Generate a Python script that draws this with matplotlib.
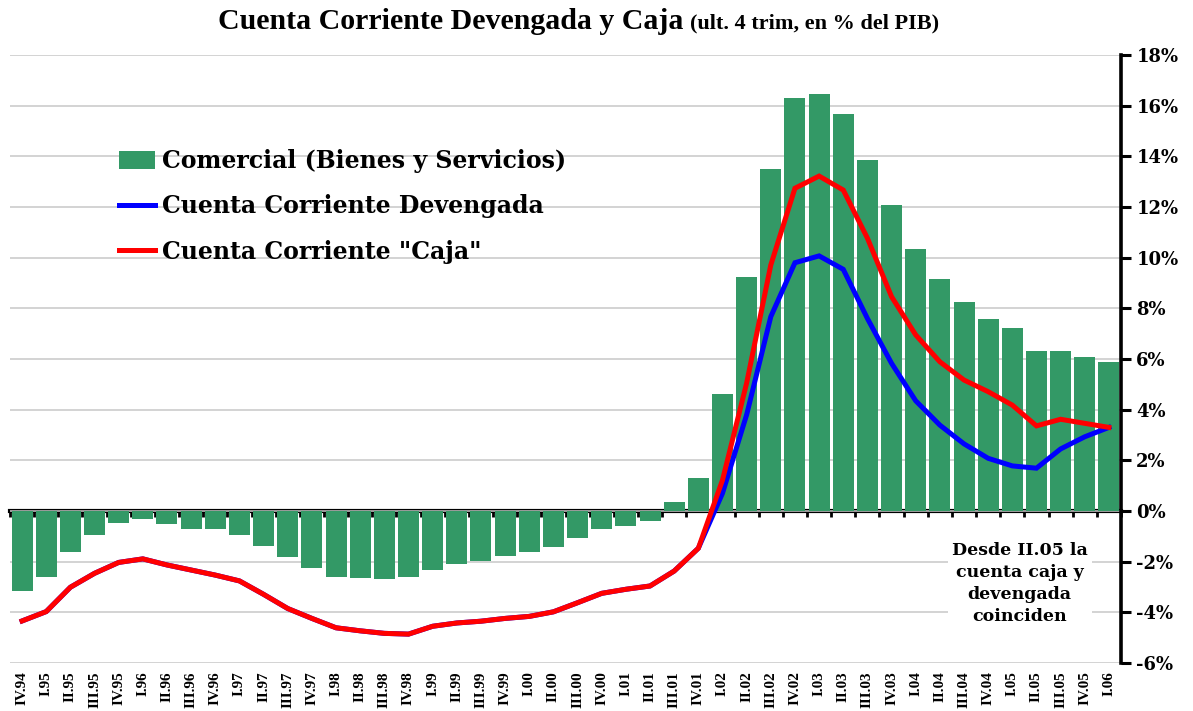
import matplotlib
matplotlib.use("Agg")
import matplotlib.pyplot as plt
from matplotlib.patches import Patch
from matplotlib.lines import Line2D
import numpy as np

categories = ["IV.94", "I.95", "II.95", "III.95", "IV.95", "I.96", "II.96", "III.96", "IV.96",
              "I.97", "II.97", "III.97", "IV.97", "I.98", "II.98", "III.98", "IV.98",
              "I.99", "II.99", "III.99", "IV.99", "I.00", "II.00", "III.00", "IV.00",
              "I.01", "II.01", "III.01", "IV.01", "I.02", "II.02", "III.02", "IV.02",
              "I.03", "II.03", "III.03", "IV.03", "I.04", "II.04", "III.04", "IV.04",
              "I.05", "II.05", "III.05", "IV.05", "I.06"]

comercial = [-3.15, -2.59, -1.60, -0.93, -0.46, -0.30, -0.50, -0.71, -0.71, -0.93,
             -1.37, -1.80, -2.24, -2.59, -2.63, -2.68, -2.59, -2.33, -2.08, -1.97,
             -1.78, -1.62, -1.42, -1.07, -0.71, -0.59, -0.38, 0.37, 1.31, 4.62,
             9.24, 13.50, 16.30, 16.46, 15.67, 13.86, 12.08, 10.34, 9.16, 8.25,
             7.58, 7.22, 6.33, 6.33, 6.08, 5.88]

caja = [-4.34, -3.97, -3.01, -2.46, -2.03, -1.89, -2.13, -2.33, -2.53, -2.76,
        -3.29, -3.85, -4.24, -4.61, -4.73, -4.83, -4.86, -4.55, -4.42, -4.35,
        -4.24, -4.16, -3.98, -3.62, -3.25, -3.09, -2.96, -2.37, -1.47, 1.22,
        5.05, 9.71, 12.74, 13.22, 12.67, 10.77, 8.46, 6.95, 5.89, 5.17,
        4.71, 4.18, 3.36, 3.62, 3.46, 3.30]

devengada = [-4.34, -3.97, -3.01, -2.46, -2.03, -1.89, -2.13, -2.33, -2.53, -2.76,
             -3.29, -3.85, -4.24, -4.61, -4.73, -4.83, -4.86, -4.55, -4.42, -4.35,
             -4.24, -4.16, -3.98, -3.62, -3.25, -3.09, -2.96, -2.37, -1.47, 0.70,
             3.80, 7.67, 9.80, 10.07, 9.54, 7.60, 5.83, 4.35, 3.39, 2.65,
             2.08, 1.78, 1.69, 2.45, 2.93, 3.30]

y_ticks = [-6, -4, -2, 0, 2, 4, 6, 8, 10, 12, 14, 16, 18]

SERIF = "DejaVu Serif"
GREEN = "#339966"

fig = plt.figure(figsize=(11.93, 7.11), dpi=100)
ax = fig.add_axes([10 / 1193, 1 - 663 / 711, 1111 / 1193, 608 / 711])

n = len(categories)
x = np.arange(n)
ax.bar(x, comercial, width=0.87, color=GREEN, zorder=2)
ax.plot(x, devengada, color="#0000FF", lw=3.6, zorder=3, solid_joinstyle="miter")
ax.plot(x, caja, color="#FF0000", lw=3.6, zorder=4, solid_joinstyle="miter")

ax.set_xlim(-0.5, n - 0.5)
ax.set_ylim(y_ticks[0], y_ticks[-1])

# y axis on the right
ax.yaxis.tick_right()
ax.set_yticks(y_ticks)
ax.set_yticklabels([f"{v}%" for v in y_ticks], fontfamily=SERIF, fontweight="bold", fontsize=13)
ax.tick_params(axis="y", direction="out", length=7, width=2.2, pad=4, colors="black")
ax.grid(axis="y", color="#c8c8c8", lw=1.1, zorder=0)
for s in ["left", "top", "bottom"]:
    ax.spines[s].set_visible(False)
ax.spines["right"].set_linewidth(2.6)

# category labels at the bottom
ax.set_xticks(x)
ax.set_xticklabels(categories, rotation=90, fontfamily="Liberation Serif", fontweight="bold",
                   fontsize=11, va="top", ha="center")
ax.tick_params(axis="x", length=0, pad=6)

# zero axis line with boundary ticks
frac0 = (0 - y_ticks[0]) / (y_ticks[-1] - y_ticks[0])
sec = ax.secondary_xaxis(frac0)
sec.set_xticks(np.arange(n + 1) - 0.5)
sec.set_xticklabels([])
sec.tick_params(axis="x", direction="out", length=4, width=2, colors="black")
sec.spines["bottom"].set_linewidth(3)
sec.spines["bottom"].set_zorder(5)

# title
fig.text(0.5725, 0.970, "Cuenta Corriente Devengada y Caja", ha="right", va="center",
         fontfamily="Liberation Serif", fontweight="bold", fontsize=21.5)
fig.text(0.5785, 0.967, "(ult. 4 trim, en % del PIB)", ha="left", va="center",
         fontfamily="Liberation Serif", fontweight="bold", fontsize=16)

# legend
handles = [Patch(facecolor=GREEN, edgecolor="none"),
           Line2D([0], [0], color="#0000FF", lw=3.6),
           Line2D([0], [0], color="#FF0000", lw=3.6)]
labels = ["Comercial (Bienes y Servicios)", "Cuenta Corriente Devengada", "Cuenta Corriente \"Caja\""]
leg = fig.legend(handles, labels, loc="upper left", bbox_to_anchor=(98 / 1193, 1 - 128 / 711),
                 frameon=False, prop={"family": SERIF, "weight": "bold", "size": 17},
                 handlelength=1.5, handleheight=0.75, handletextpad=0.3, labelspacing=0.9)

# annotation
ax.text(41.3, -2.85, "Desde II.05 la\ncuenta caja y\ndevengada\ncoinciden", ha="center", va="center",
        fontfamily=SERIF, fontweight="bold", fontsize=12.5, linespacing=1.38, zorder=6,
        bbox=dict(facecolor="white", edgecolor="none", pad=3))

fig.savefig("out.png", dpi=100)
